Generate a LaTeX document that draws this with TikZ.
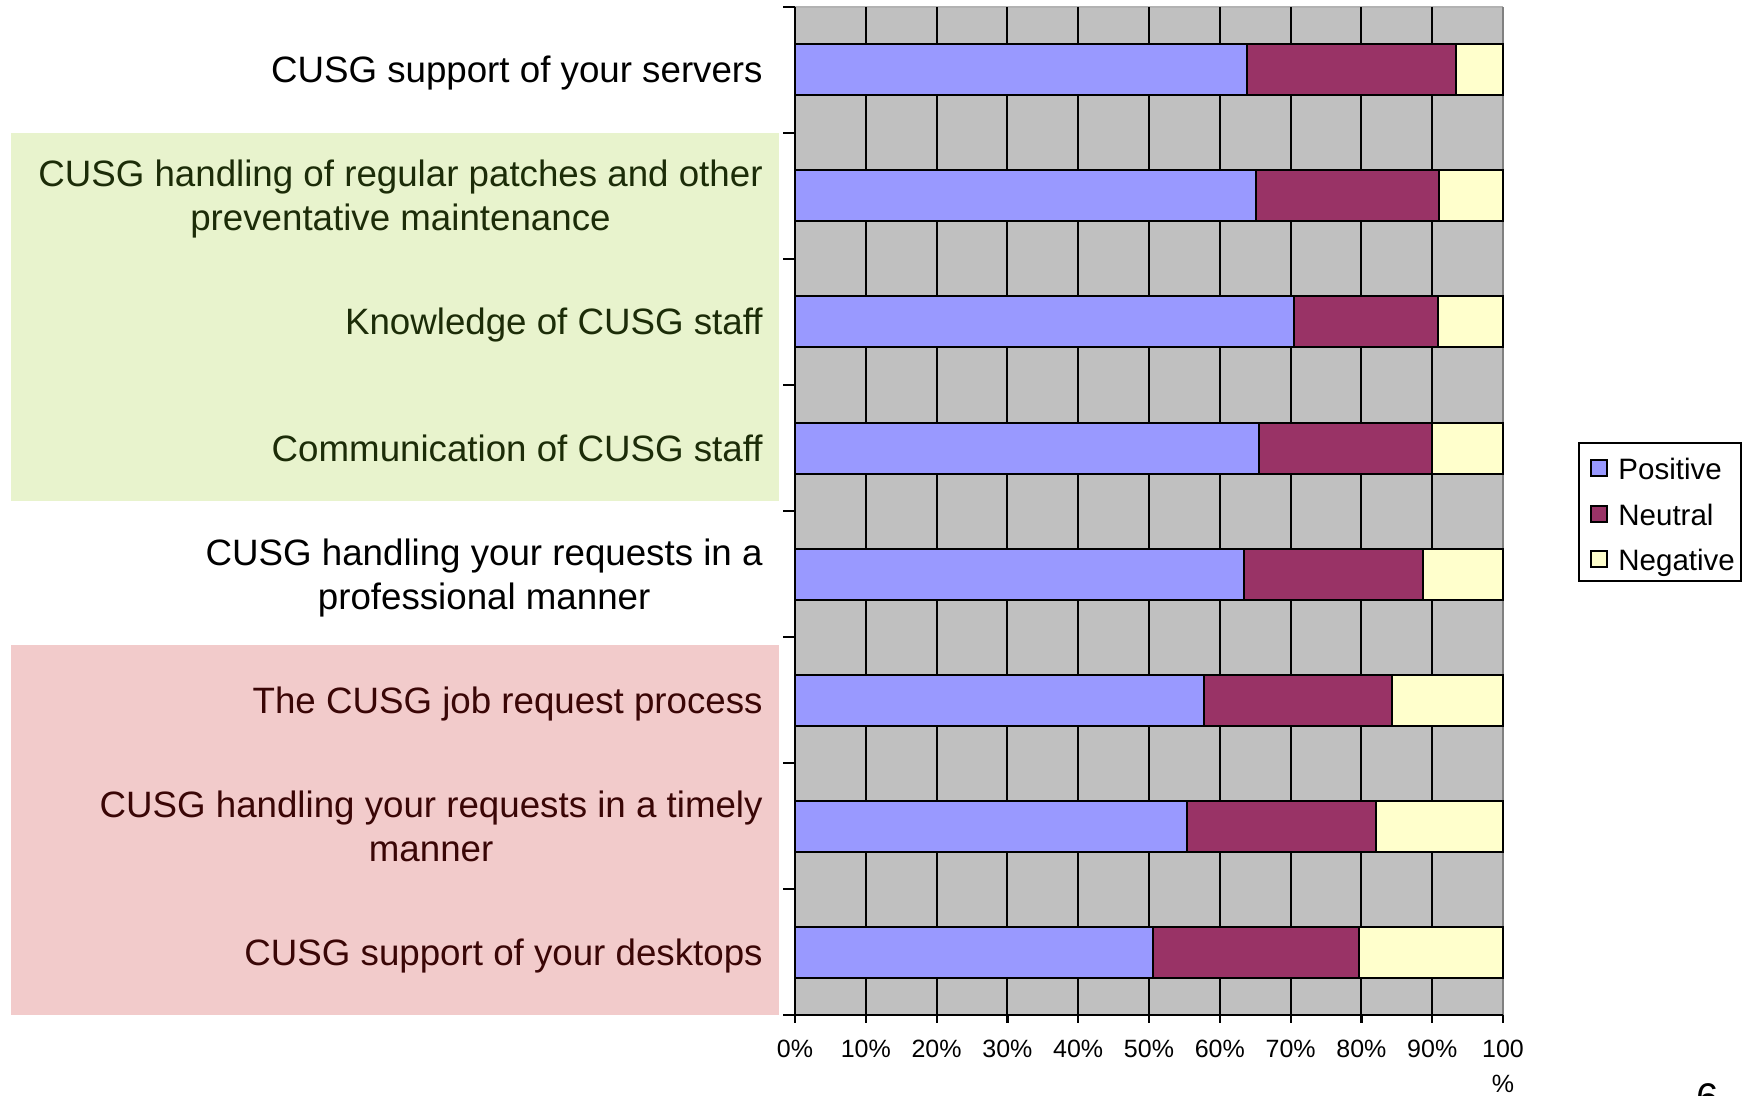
\documentclass[tikz,border=0pt]{standalone}
\usepackage{fontspec}
\setmainfont{Liberation Sans}
\definecolor{pos}{HTML}{9999FF}
\definecolor{neu}{HTML}{993366}
\definecolor{negc}{HTML}{FFFFCC}
\definecolor{plotgrey}{HTML}{C0C0C0}
\definecolor{greenbg}{HTML}{E8F3CD}
\definecolor{redbg}{HTML}{F2CBCB}
\definecolor{greentxt}{HTML}{1C2C08}
\definecolor{redtxt}{HTML}{3A0606}
\begin{document}
\begin{tikzpicture}[x=0.5pt,y=-0.5pt,
  lab/.style={anchor=base east, align=center, inner sep=0pt, font=\fontsize{18.35}{22}\selectfont},
  ticklab/.style={anchor=base, align=center, inner sep=0pt, font=\fontsize{12.5}{17.5}\selectfont},
  barbox/.style={draw=black, line width=1pt},
  gridline/.style={black, line width=1pt},
  axisline/.style={black, line width=1.1pt},
  legtxt/.style={anchor=base west, inner sep=0pt, font=\fontsize{14.75}{17}\selectfont},
  legsq/.style={draw=black, line width=0.8pt}]
\useasboundingbox (0,0) rectangle (1749,1096);
\clip (0,0) rectangle (1749,1096);
% highlight backgrounds
\fill[greenbg] (11,133) rectangle (779,501);
\fill[redbg] (11,645) rectangle (779,1015);
% plot area
\fill[plotgrey] (795,7) rectangle (1503,1015);
\draw[color=gray!60, line width=1pt] (795,7) -- (1503,7);
\draw[color=gray, line width=1pt] (1503,7) -- (1503,1015);
\foreach \k in {1,...,9} \draw[gridline] ({795+70.8*\k},7) -- ({795+70.8*\k},1015);
% bars
\foreach \i/\p/\n in {0/63.8/93.4, 1/65.1/91.0, 2/70.5/90.8, 3/65.5/90.0, 4/63.4/88.7, 5/57.8/84.3, 6/55.4/82.0, 7/50.6/79.7} {
  \pgfmathsetmacro\yc{70+126*\i}
  \draw[barbox, fill=pos] (795,{\yc-25.5}) rectangle ({795+7.08*\p},{\yc+25.5});
  \draw[barbox, fill=neu] ({795+7.08*\p},{\yc-25.5}) rectangle ({795+7.08*\n},{\yc+25.5});
  \draw[barbox, fill=negc] ({795+7.08*\n},{\yc-25.5}) rectangle (1503,{\yc+25.5});
}
% axes
\draw[axisline] (795,7) -- (795,1015);
\foreach \k in {0,...,8} \draw[axisline] (783,{7+126*\k}) -- (795,{7+126*\k});
\draw[axisline] (783,1015) -- (1503,1015);
\foreach \k in {0,...,10} \draw[axisline] ({795+70.8*\k},1015) -- ({795+70.8*\k},1023);
% category labels
\node[lab] (l1) at (763,83) {CUSG support of your servers};
\node[lab, text=greentxt] (l2) at (763,231) {CUSG handling of regular patches and other\\preventative maintenance};
\node[lab, text=greentxt] (l3) at (763,335) {Knowledge of CUSG staff};
\node[lab, text=greentxt] (l4) at (763,461) {Communication of CUSG staff};
\node[lab] (l5) at (763,609) {CUSG handling your requests in a\\professional manner};
\node[lab, text=redtxt] (l6) at (763,713) {The CUSG job request process};
\node[lab, text=redtxt] (l7) at (763,861) {CUSG handling your requests in a timely\\manner};
\node[lab, text=redtxt] (l8) at (763,965) {CUSG support of your desktops};
% x tick labels
\foreach \k/\t in {0/0\%,1/10\%,2/20\%,3/30\%,4/40\%,5/50\%,6/60\%,7/70\%,8/80\%,9/90\%} \node[ticklab] (t\k) at ({795+70.8*\k},1057) {\t};
\node[ticklab] (t10) at (1503,1092) {100\\\%};
% legend
\node[draw=black, line width=1pt, minimum width=162*0.5pt, minimum height=138*0.5pt, inner sep=0pt] (legend) at (1660,512) {};
\draw[legsq, fill=pos] (1591,460) rectangle (1607,476);
\draw[legsq, fill=neu] (1591,506) rectangle (1607,522);
\draw[legsq, fill=negc] (1591,551) rectangle (1607,567);
\node[legtxt] (lp) at (1618,479) {Positive};
\node[legtxt] (ln) at (1618,525) {Neutral};
\node[legtxt] (lg) at (1618,570) {Negative};
% page number
\node[anchor=base, inner sep=0pt, font=\fontsize{20}{24}\selectfont] (pg) at (1708,1111) {6};
\end{tikzpicture}
\end{document}
